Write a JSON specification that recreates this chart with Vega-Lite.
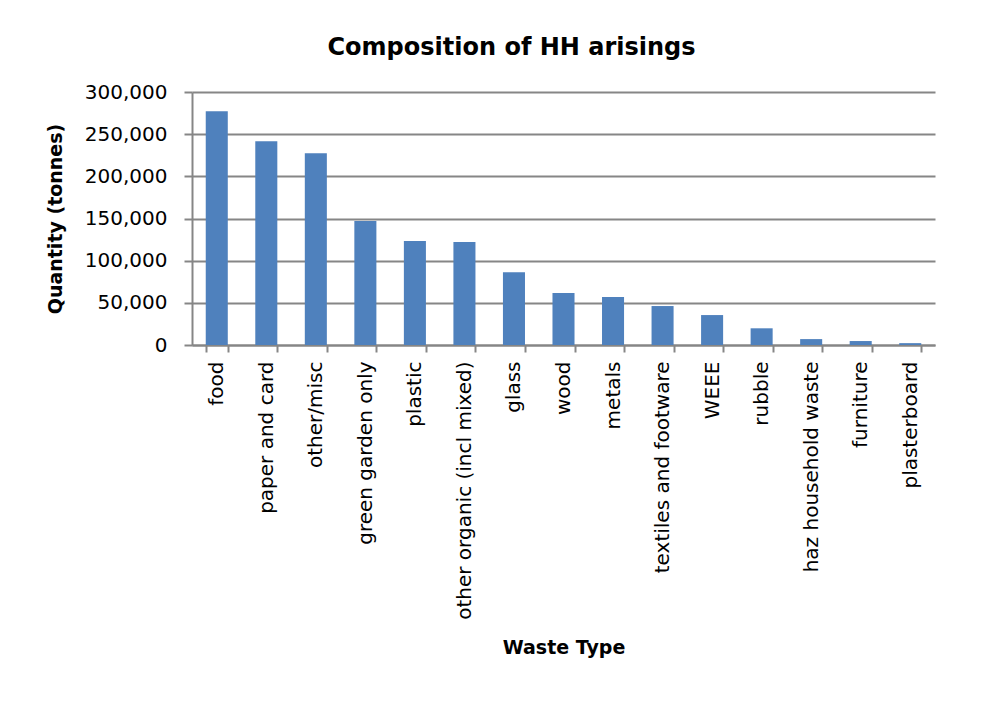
{
  "$schema": "https://vega.github.io/schema/vega-lite/v6.json",
  "width": 743,
  "height": 253,
  "autosize": {"type": "none"},
  "padding": {"left": 192, "top": 92, "right": 63, "bottom": 372},
  "background": "white",
  "title": {
    "text": "Composition of HH arisings",
    "font": "DejaVu Sans",
    "fontSize": 24,
    "fontWeight": "bold",
    "color": "#000000",
    "anchor": "middle",
    "dx": -52,
    "offset": 22
  },
  "data": {
    "values": [
      {"type": "food", "tonnes": 277100},
      {"type": "paper and card", "tonnes": 241600},
      {"type": "other/misc", "tonnes": 227400},
      {"type": "green garden only", "tonnes": 146900},
      {"type": "plastic", "tonnes": 123200},
      {"type": "other organic (incl mixed)", "tonnes": 122000},
      {"type": "glass", "tonnes": 86400},
      {"type": "wood", "tonnes": 61600},
      {"type": "metals", "tonnes": 56800},
      {"type": "textiles and footware", "tonnes": 46200},
      {"type": "WEEE", "tonnes": 35500},
      {"type": "rubble", "tonnes": 19800},
      {"type": "haz household waste", "tonnes": 7000},
      {"type": "furniture", "tonnes": 4700},
      {"type": "plasterboard", "tonnes": 2200}
    ]
  },
  "mark": {"type": "bar", "color": "#4F81BD"},
  "encoding": {
    "x": {
      "field": "type",
      "type": "nominal",
      "sort": null,
      "title": "Waste Type",
      "scale": {"paddingInner": 0.555, "paddingOuter": 0.2775},
      "axis": {
        "labelAngle": -90,
        "labelFont": "DejaVu Sans",
        "labelFontSize": 20,
        "labelColor": "#000000",
        "labelPadding": 9,
        "labelLimit": 400,
        "tickBand": "extent",
        "tickSize": 7,
        "tickColor": "#868686",
        "tickWidth": 2,
        "domainColor": "#868686",
        "domainWidth": 2,
        "titleFont": "DejaVu Sans",
        "titleFontSize": 19,
        "titleFontWeight": "bold",
        "titleColor": "#000000",
        "titlePadding": 93
      }
    },
    "y": {
      "field": "tonnes",
      "type": "quantitative",
      "title": "Quantity (tonnes)",
      "scale": {"domain": [0, 300000], "nice": false},
      "axis": {
        "values": [0, 50000, 100000, 150000, 200000, 250000, 300000],
        "format": ",d",
        "labelFont": "DejaVu Sans",
        "labelFontSize": 20,
        "labelColor": "#000000",
        "labelPadding": 17,
        "tickSize": 8,
        "tickColor": "#868686",
        "tickWidth": 2,
        "domainColor": "#868686",
        "domainWidth": 2,
        "grid": true,
        "gridColor": "#868686",
        "gridWidth": 2,
        "titleFont": "DejaVu Sans",
        "titleFontSize": 19,
        "titleFontWeight": "bold",
        "titleColor": "#000000",
        "titlePadding": 19
      }
    }
  },
  "config": {
    "view": {"stroke": null}
  }
}
